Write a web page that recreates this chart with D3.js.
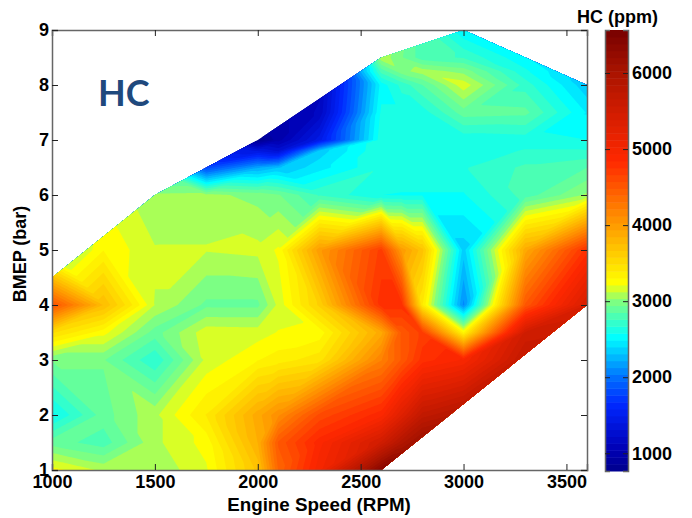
<!DOCTYPE html>
<html>
<head>
<meta charset="utf-8">
<script src="https://cdn.jsdelivr.net/npm/d3@7"></script>
<style>
  html, body { margin: 0; background: #fff; }
  text { font-family: "Liberation Sans", Arial, sans-serif; font-weight: bold; fill: #000; }
</style>
</head>
<body>
<script>
// engine speed columns and BMEP rows of the map
const rpm  = [1000, 1250, 1500, 1750, 2000, 2100, 2300, 2600, 2700, 2800, 3000, 3300, 3600];
const bmep = [1, 1.5, 2, 3, 3.5, 4, 5, 6, 6.5, 6.8, 7, 7.5, 8, 8.25, 8.5, 9];

// HC (ppm) per column, one value per bmep row. null = far outside the tested region
const hc1000 = [3250, 2900, 2550, 2950, 3500, 4550, 2900, null, null, null, null, null, null, null, null, null];
const hc1250 = [3100, 2800, 2900, 2950, 3250, 3750, 3300, 3200, null, null, null, null, null, null, null, null];
const hc1500 = [3050, 3100, 3100, 2680, 2900, 3120, 3130, 3050, 2700, 2450, 2200, null, null, null, null, null];
const hc1750 = [3200, 3250, 3400, 3150, 3180, 2920, 3130, 3060, 1800, 1500, 1300, 1200, null, null, null, null];
const hc2000 = [3700, 3850, 3900, 3300, 3170, 2920, 3150, 3000, 2200, 1400, 780, 1000, 1000, null, null, null];
const hc2100 = [4400, 4500, 4100, 3350, 3220, 3150, 3230, 2950, 2300, 1300, 1000, 1000, 1000, null, null, null];
const hc2300 = [5000, 4900, 4600, 3450, 3250, 3600, 4000, 2750, 2450, 2350, 1450, 1150, 1100, 1100, null, null];
const hc2600 = [6400, 5500, 4900, 4200, 3900, 4800, 4700, 2580, 2660, 2660, 2650, 2600, 2530, 2800, 3100, 3300];
const hc2700 = [6500, 5900, 5300, 4500, 4500, 4800, 4000, 2570, 2660, 2660, 2650, 2600, 2700, 3000, 2950, 3000];
const hc2800 = [6500, 6200, 5700, 4800, 4700, 3400, 3700, 2570, 2660, 2660, 2650, 2620, 2850, 3080, 2800, 2800];
const hc3000 = [6500, 6300, 5900, 4950, 3300, 2100, 2350, 2570, 2660, 2600, 2600, 2900, 3180, 3000, 2750, 2500];
const hc3300 = [6500, 6300, 6000, 5700, 5500, 4500, 3900, 2800, 2780, 2680, 2620, 2880, 2720, 2600, 2500, 2200];
const hc3600 = [6500, 6300, 6000, 5800, 5600, 5400, 4800, 3050, 2850, 2680, 2580, 2480, 2330, 2300, 2250, 2100];
const hcColumns = [hc1000, hc1250, hc1500, hc1750, hc2000, hc2100, hc2300, hc2600, hc2700, hc2800, hc3000, hc3300, hc3600];

// outline of the tested region
const edgeRpm  = [1000, 1500, 2000, 2600, 3000, 3600, 3600, 2600, 1000];
const edgeBmep = [4.5, 6, 7, 8.5, 9, 8, 4, 1, 1];

const xTicks = [1000, 1500, 2000, 2500, 3000, 3500];
const yTicks = [1, 2, 3, 4, 5, 6, 7, 8, 9];
const cbTicks = [1000, 2000, 3000, 4000, 5000, 6000];

// modified jet map of the colorbar
const colorValues = [767, 1050, 1650, 2000, 2530, 3000, 3240, 4000, 4850, 5400, 6000, 6566];
const colorStops = ['#00008c', '#0000b4', '#0028ff', '#0070ff', '#00ffff', '#80ff80', '#ffff00', '#ff9c00', '#ff2800', '#d81e00', '#aa1400', '#780000'];

const hcMin = 767, hcMax = 6566, nLevels = 64;

const width = 692, height = 518;
const plot = { left: 52, right: 587, top: 30, bottom: 470 };
const bar = { left: 605, right: 628, top: 30, bottom: 471 };

const svg = d3.select('body').append('svg').attr('width', width).attr('height', height);

const x = d3.scaleLinear().domain([1000, 3600]).range([plot.left, plot.right]);
const y = d3.scaleLinear().domain([1, 9]).range([plot.bottom, plot.top]);
const cb = d3.scaleLinear().domain([hcMin, hcMax]).range([bar.bottom, bar.top]);
const color = d3.scaleLinear().domain(colorValues).range(colorStops).clamp(true);

// fill the null cells from the last known value in the column
const filled = hcColumns.map(col => {
  let last = col[0];
  return col.map(v => { if (v !== null) last = v; return last; });
});

// fractional index into the rpm / bmep arrays
const xIdx = d3.scaleLinear().domain(rpm).range(d3.range(rpm.length));
const yIdx = d3.scaleLinear().domain(bmep).range(d3.range(bmep.length));

// linear on triangles: each cell is cut along the diagonal with the closest end values
function valueAt(r, b) {
  const fx = xIdx(r), fy = yIdx(b);
  const i = Math.min(Math.floor(fx), rpm.length - 2), j = Math.min(Math.floor(fy), bmep.length - 2);
  const u = fx - i, v = fy - j;
  const a = filled[i][j], c = filled[i + 1][j], d = filled[i][j + 1], e = filled[i + 1][j + 1];
  if (Math.abs(a - e) <= Math.abs(c - d)) {
    return u > v ? a + (c - a) * u + (e - c) * v : a + (d - a) * v + (e - d) * u;
  }
  return u + v < 1 ? a + (c - a) * u + (d - a) * v : e + (d - e) * (1 - u) + (c - e) * (1 - v);
}

const nx = 521, ny = 321;
const grid = [];
for (let j = 0; j < ny; j++) {
  for (let i = 0; i < nx; i++) {
    grid.push(valueAt(1000 + i * 5, 1 + j * 0.025));
  }
}

const levels = d3.range(nLevels).map(i => hcMin + (hcMax - hcMin) * i / nLevels);
const contours = d3.contours().size([nx, ny]).smooth(true).thresholds(levels)(grid);

const path = d3.geoPath(d3.geoTransform({
  point(px, py) {
    this.stream.point(x(1000 + (px - 0.5) * 5), y(1 + (py - 0.5) * 0.025));
  }
}));

const edgePoints = edgeRpm.map((r, i) => [x(r), y(edgeBmep[i])]);
svg.append('clipPath').attr('id', 'region')
  .append('polygon').attr('points', edgePoints.map(p => p.join(',')).join(' '));

const levelStep = (hcMax - hcMin) / nLevels;
svg.append('g').attr('clip-path', 'url(#region)')
  .selectAll('path').data(contours).enter().append('path')
  .attr('d', path)
  .attr('fill', d => color(d.value + levelStep / 2));

// axes, ticks point inwards on all four sides
function styleAxis(g) {
  g.selectAll('.domain').attr('stroke', '#666').attr('stroke-width', 1.5);
  g.selectAll('.tick line').attr('stroke', '#222').attr('stroke-width', 1);
  g.selectAll('text').style('font-size', '18px').attr('fill', '#000');
}
svg.append('g').attr('transform', `translate(0,${plot.bottom})`)
  .call(d3.axisBottom(x).tickValues(xTicks).tickSize(-6).tickPadding(5).tickFormat(d3.format('d')))
  .call(styleAxis);
svg.append('g').attr('transform', `translate(0,${plot.top})`)
  .call(d3.axisTop(x).tickValues(xTicks).tickSize(-6).tickFormat(''))
  .call(styleAxis);
svg.append('g').attr('transform', `translate(${plot.left},0)`)
  .call(d3.axisLeft(y).tickValues(yTicks).tickSize(-6).tickPadding(3).tickFormat(d3.format('d')))
  .call(styleAxis);
svg.append('g').attr('transform', `translate(${plot.right},0)`)
  .call(d3.axisRight(y).tickValues(yTicks).tickSize(-6).tickFormat(''))
  .call(styleAxis);

// colorbar
svg.append('g').selectAll('rect').data(levels).enter().append('rect')
  .attr('x', bar.left)
  .attr('width', bar.right - bar.left)
  .attr('y', d => cb(d + levelStep))
  .attr('height', d => cb(d) - cb(d + levelStep) + 0.5)
  .attr('fill', d => color(d + levelStep / 2));
svg.append('g').attr('transform', `translate(${bar.right},0)`)
  .call(d3.axisRight(cb).tickValues(cbTicks).tickSize(-5).tickPadding(4).tickFormat(d3.format('d')))
  .call(styleAxis);
svg.append('g').attr('transform', `translate(${bar.left},0)`)
  .call(d3.axisLeft(cb).tickValues(cbTicks).tickSize(-5).tickFormat(''))
  .call(styleAxis);

svg.append('text').attr('x', 319).attr('y', 511).attr('text-anchor', 'middle')
  .style('font-size', '18.8px').text('Engine Speed (RPM)');
svg.append('text').attr('transform', 'translate(26,254) rotate(-90)').attr('text-anchor', 'middle')
  .style('font-size', '18px').text('BMEP (bar)');
svg.append('text').attr('x', 577).attr('y', 23)
  .style('font-size', '18px').text('HC (ppm)');
svg.append('text').attr('x', 98).attr('y', 106)
  .style('font-family', 'Lato, sans-serif').style('font-size', '36px').style('fill', '#1f497d').text('HC');
</script>
</body>
</html>
